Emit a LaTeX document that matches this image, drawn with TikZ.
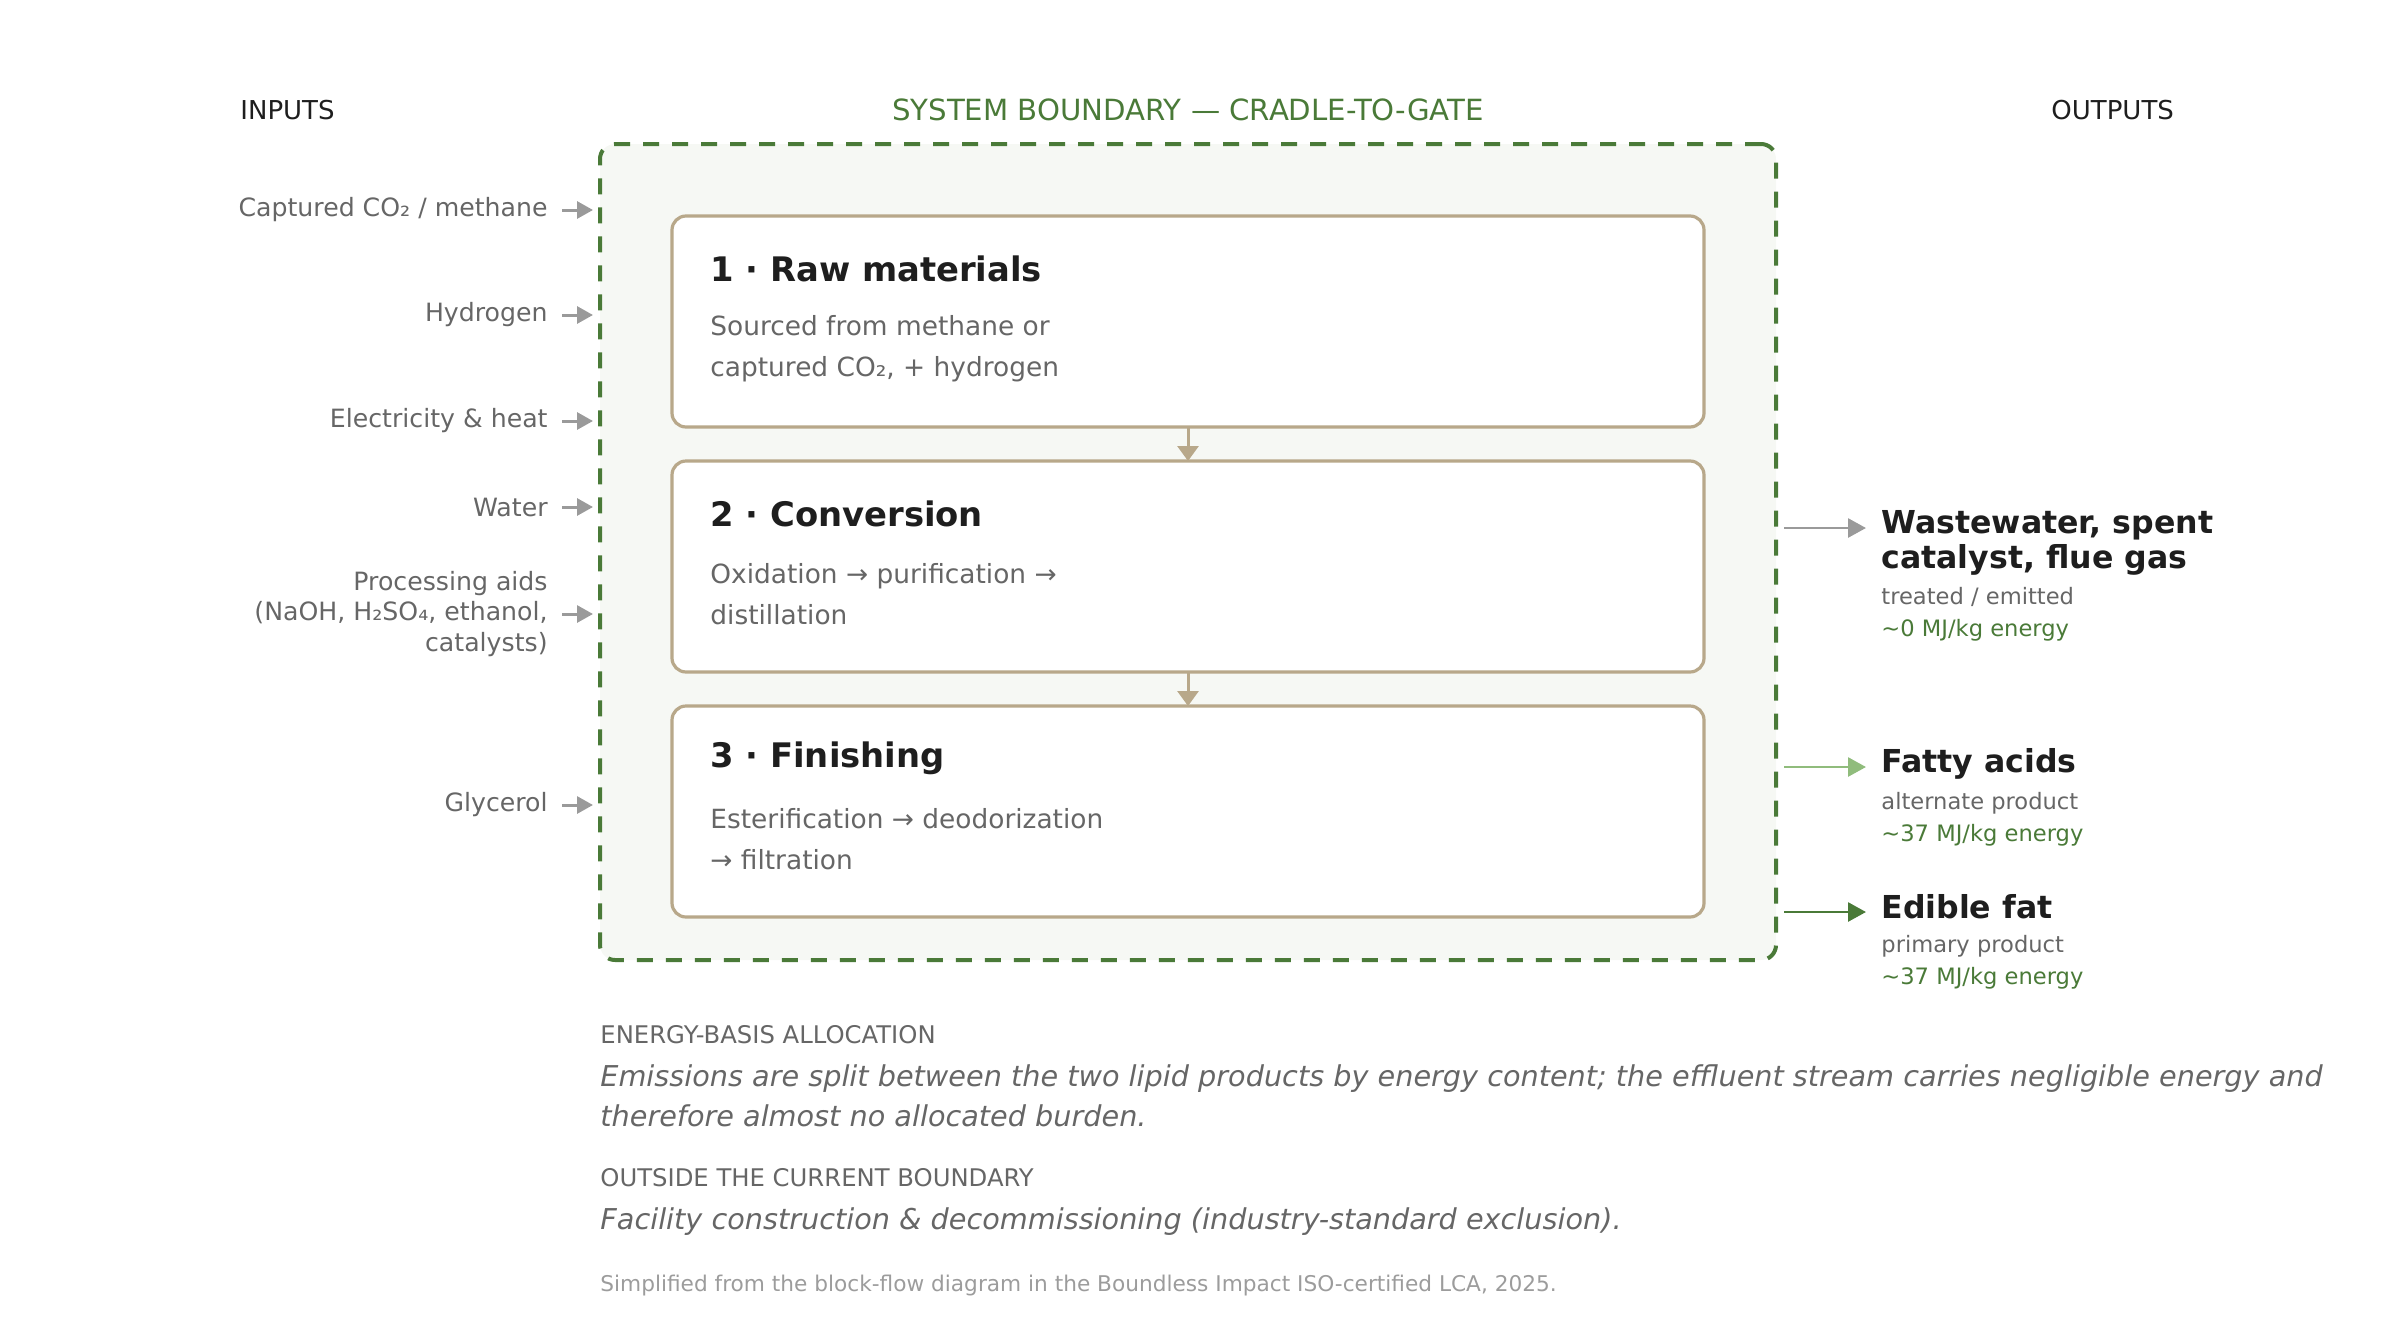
\documentclass[tikz,border=0pt]{standalone}
\usepackage{fontspec}
\setmainfont{DejaVu Sans}
\usetikzlibrary{positioning, arrows.meta}

\definecolor{bndgreen}{HTML}{4A7A38}
\definecolor{bndfill}{HTML}{F6F8F4}
\definecolor{tan}{HTML}{B8A88A}
\definecolor{ink}{HTML}{1E1E1E}
\definecolor{muted}{HTML}{666666}
\definecolor{arrgray}{HTML}{9A9A9A}
\definecolor{lightgreen}{HTML}{90BC7C}
\definecolor{faint}{HTML}{9C9C9C}

\tikzset{
  boundbox/.style={draw=bndgreen, fill=bndfill, line width=2pt, dash pattern=on 8pt off 6.5pt,
    rounded corners=7.5pt, minimum width=588pt, minimum height=408pt, inner sep=0pt},
  stage/.style={draw=tan, line width=1.6pt, rounded corners=7pt, fill=white, outer sep=0pt,
    minimum width=516pt, minimum height=105.5pt},
  stagetitle/.style={anchor=west, inner sep=0pt, text=ink, font=\fontsize{16.9}{20}\selectfont\bfseries},
  stagebody/.style={anchor=west, inner sep=0pt, align=left, text=muted, font=\fontsize{13.2}{20.5}\selectfont},
  header/.style={inner sep=0pt, text=ink, font=\fontsize{13}{16}\selectfont},
  inlabel/.style={anchor=east, inner sep=0pt, align=right, text=muted, font=\fontsize{12.6}{15.3}\selectfont},
  outtitle/.style={anchor=west, inner sep=0pt, align=left, text=ink, font=\fontsize{15.8}{17.5}\selectfont\bfseries},
  outnote/.style={anchor=west, inner sep=0pt, align=left, text=muted, font=\fontsize{11.3}{16}\selectfont},
  sechead/.style={anchor=west, inner sep=0pt, text=muted, font=\fontsize{12.15}{14}\selectfont},
  secbody/.style={anchor=west, inner sep=0pt, align=left, text=muted, font=\fontsize{14.35}{20}\selectfont\itshape},
  srcnote/.style={anchor=west, inner sep=0pt, text=faint, font=\fontsize{10.83}{13}\selectfont},
  inarrow/.style={draw=arrgray, line width=1.5pt, -{Triangle[length=8pt,width=8.5pt]}},
  outarrow/.style={line width=1.4pt, -{Triangle[length=9pt,width=9.5pt]}},
  flow/.style={draw=tan, line width=1.5pt, -{Triangle[length=7.5pt,width=10.5pt]}}
}

\begin{document}
\begin{tikzpicture}[x=0.5pt,y=0.5pt]
  \useasboundingbox (0,0) rectangle (2400,-1344);

  \node[header, anchor=west] (inputs) at (240,-110) {INPUTS};
  \node[header, text=bndgreen, font=\fontsize{14.6}{16}\selectfont] (sysb) at (1188,-110) {SYSTEM BOUNDARY — CRADLE-TO-GATE};
  \node[header, anchor=west] (outputs) at (2051,-110) {OUTPUTS};

  \node[boundbox] (boundary) at (1188,-552) {};

  \node[stage] (raw) at (1188,-321.5) {};
  \node[stage] (conv) [below=17pt of raw] {};
  \node[stage] (fin) [below=17pt of conv] {};

  \node[stagetitle] (raw-t) at ([shift={(38,-52.5)}]raw.north west) {1 · Raw materials};
  \node[stagebody] (raw-b) at ([shift={(38,-133)}]raw.north west) {Sourced from methane or\\captured CO₂, + hydrogen};
  \node[stagetitle] (conv-t) at ([shift={(38,-52.5)}]conv.north west) {2 · Conversion};
  \node[stagebody] (conv-b) at ([shift={(38,-133)}]conv.north west) {Oxidation → purification →\\distillation};
  \node[stagetitle] (fin-t) at ([shift={(38,-52.5)}]fin.north west) {3 · Finishing};
  \node[stagebody] (fin-b) at ([shift={(38,-133)}]fin.north west) {Esterification → deodorization\\→ filtration};

  \draw[flow] (raw.south) -- (conv.north);
  \draw[flow] (conv.south) -- (fin.north);

  \node[inlabel] (in-co2) at (548,-210) {Captured CO₂ / methane};
  \node[inlabel] (in-h2) at (548,-315) {Hydrogen};
  \node[inlabel] (in-el) at (548,-421) {Electricity \& heat};
  \node[inlabel] (in-w) at (548,-507) {Water};
  \node[inlabel] (in-aid) at (548,-614) {Processing aids\\(NaOH, H₂SO₄, ethanol,\\catalysts)};
  \node[inlabel] (in-gly) at (548,-805) {Glycerol};
  \foreach \n in {in-co2,in-h2,in-el,in-w,in-aid,in-gly}
    \draw[inarrow] ([xshift=7pt]\n.east) -- ([xshift=-2.5pt]\n.east -| boundary.west);

  \coordinate (ww-in) at (1866,-528);
  \coordinate (fa-in) at (1866,-767);
  \coordinate (ef-in) at (1866,-912);
  \draw[outarrow, draw=arrgray] ([xshift=3pt]boundary.east |- ww-in) -- (ww-in);
  \draw[outarrow, draw=lightgreen] ([xshift=3pt]boundary.east |- fa-in) -- (fa-in);
  \draw[outarrow, draw=bndgreen] ([xshift=3pt]boundary.east |- ef-in) -- (ef-in);

  \node[outtitle] (ww-t) at (1881,-542.5) {Wastewater, spent\\catalyst, flue gas};
  \node[outnote] (ww-n) at (1881,-614) {treated / emitted\\\textcolor{bndgreen}{\textasciitilde0 MJ/kg energy}};
  \node[outtitle] (fa-t) at (1881,-764) {Fatty acids};
  \node[outnote] (fa-n) at (1881,-819) {alternate product\\\textcolor{bndgreen}{\textasciitilde37 MJ/kg energy}};
  \node[outtitle] (ef-t) at (1881,-907) {Edible fat};
  \node[outnote] (ef-n) at (1881,-962.5) {primary product\\\textcolor{bndgreen}{\textasciitilde37 MJ/kg energy}};

  \node[sechead] (alloc-h) at (600,-1034.5) {ENERGY-BASIS ALLOCATION};
  \node[secbody] (alloc-b) at (600,-1096) {Emissions are split between the two lipid products by energy content; the effluent stream carries negligible energy and\\therefore almost no allocated burden.};
  \node[sechead] (excl-h) at (600,-1177.5) {OUTSIDE THE CURRENT BOUNDARY};
  \node[secbody] (excl-b) at (600,-1222) {Facility construction \& decommissioning (industry-standard exclusion).};
  \node[srcnote] (src) at (600,-1286) {Simplified from the block-flow diagram in the Boundless Impact ISO-certified LCA, 2025.};
\end{tikzpicture}
\end{document}
